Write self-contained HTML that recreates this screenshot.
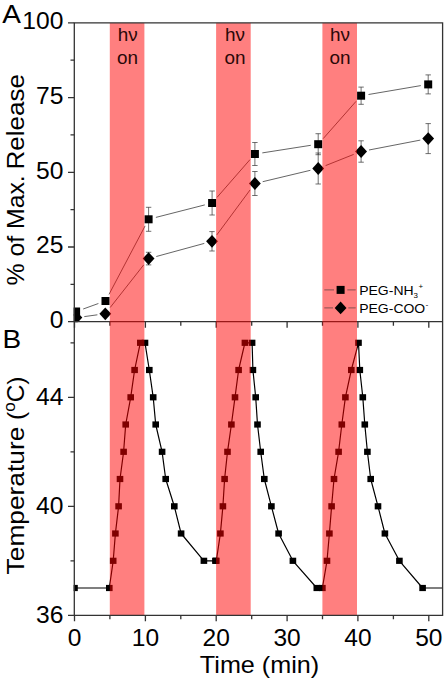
<!DOCTYPE html>
<html><head><meta charset="utf-8"><title>Release and temperature vs time</title>
<style>html,body{margin:0;padding:0;background:#fff}svg{display:block}text{font-family:"Liberation Sans", Arial, sans-serif}</style>
</head><body>
<svg width="448" height="683" viewBox="0 0 448 683">
<rect width="448" height="683" fill="#fff"/>
<clipPath id="clipA"><rect x="73.65" y="22.90" width="369.60" height="299.45"/></clipPath>
<g id="panelA" clip-path="url(#clipA)">
<path d="M83.2 309.0L98.4 303.5M109.0 294.4L145.1 225.9M155.9 217.4L204.8 204.9M217.0 197.4L250.0 159.6M262.3 152.9L310.8 145.3M323.2 138.6L356.1 101.3M368.5 94.5L420.8 85.6" stroke="#222" stroke-width="0.7" fill="none"/>
<path d="M84.3 316.6L97.4 314.8M110.2 307.5L143.7 264.9M156.3 256.5L204.3 243.4M216.8 234.9L250.1 189.9M262.7 181.7L310.4 170.3M325.6 165.6L353.7 154.4M369.0 150.0L420.3 140.1" stroke="#222" stroke-width="0.7" fill="none"/>
<path d="M148.6 207.3V231.3M145.9 207.3h5.4M145.9 231.3h5.4M212.1 191.0V215.0M209.4 191.0h5.4M209.4 215.0h5.4M254.9 142.5V165.5M252.2 142.5h5.4M252.2 165.5h5.4M318.2 133.7V154.7M315.5 133.7h5.4M315.5 154.7h5.4M361.1 87.1V104.3M358.4 87.1h5.4M358.4 104.3h5.4M428.2 74.9V93.9M425.5 74.9h5.4M425.5 93.9h5.4M148.6 252.3V264.9M145.9 252.3h5.4M145.9 264.9h5.4M212.0 231.6V251.0M209.3 231.6h5.4M209.3 251.0h5.4M254.9 171.5V195.5M252.2 171.5h5.4M252.2 195.5h5.4M318.2 153.0V184.0M315.5 153.0h5.4M315.5 184.0h5.4M361.1 140.8V162.2M358.4 140.8h5.4M358.4 162.2h5.4M428.2 123.6V153.6M425.5 123.6h5.4M425.5 153.6h5.4" stroke="#333" stroke-width="0.7" fill="none"/>
<rect x="72.1" y="307.5" width="8" height="8" fill="#000"/>
<rect x="101.5" y="297.0" width="8" height="8" fill="#000"/>
<rect x="144.6" y="215.3" width="8" height="8" fill="#000"/>
<rect x="208.1" y="199.0" width="8" height="8" fill="#000"/>
<rect x="250.9" y="150.0" width="8" height="8" fill="#000"/>
<rect x="314.2" y="140.2" width="8" height="8" fill="#000"/>
<rect x="357.1" y="91.7" width="8" height="8" fill="#000"/>
<rect x="424.2" y="80.4" width="8" height="8" fill="#000"/>
<path d="M76.4 311.2l5.9 6.4l-5.9 6.4l-5.9 -6.4z" fill="#000"/>
<path d="M105.3 307.4l5.9 6.4l-5.9 6.4l-5.9 -6.4z" fill="#000"/>
<path d="M148.6 252.2l5.9 6.4l-5.9 6.4l-5.9 -6.4z" fill="#000"/>
<path d="M212.0 234.9l5.9 6.4l-5.9 6.4l-5.9 -6.4z" fill="#000"/>
<path d="M254.9 177.1l5.9 6.4l-5.9 6.4l-5.9 -6.4z" fill="#000"/>
<path d="M318.2 162.1l5.9 6.4l-5.9 6.4l-5.9 -6.4z" fill="#000"/>
<path d="M361.1 145.1l5.9 6.4l-5.9 6.4l-5.9 -6.4z" fill="#000"/>
<path d="M428.2 132.2l5.9 6.4l-5.9 6.4l-5.9 -6.4z" fill="#000"/>
</g>
<clipPath id="clipB"><rect x="73.65" y="321.70" width="369.60" height="294.25"/></clipPath>
<g id="panelB" clip-path="url(#clipB)">
<polyline points="74.5,588.0 109.3,588.0 113.2,560.8 115.4,533.5 118.6,506.3 120.0,479.0 123.6,451.8 125.7,424.5 130.7,397.3 134.6,370.0 140.3,342.8 145.0,342.8 149.3,370.0 153.2,397.3 155.7,424.5 162.1,451.8 165.7,479.0 174.3,506.3 181.1,533.5 203.9,560.8 215.4,560.8 216.3,560.8 220.4,533.5 222.9,506.3 224.6,479.0 227.5,451.8 231.4,424.5 235.0,397.3 238.6,370.0 244.9,342.8 252.1,342.8 252.9,370.0 255.7,397.3 257.5,424.5 260.7,451.8 264.3,479.0 271.4,506.3 278.6,533.5 292.9,560.8 316.8,588.0 322.4,588.0 327.0,560.8 329.4,533.5 331.6,506.3 334.0,479.0 338.6,451.8 341.8,424.5 345.4,397.3 351.3,370.0 358.5,342.8 359.8,370.0 362.8,397.3 364.8,424.5 367.4,451.8 370.7,479.0 378.0,506.3 384.9,533.5 399.4,560.8 422.6,588.0 442.6,588.0" fill="none" stroke="#000" stroke-width="1.2" stroke-linejoin="round"/>
<rect x="71.2" y="584.9" width="6.6" height="6.2" fill="#000"/>
<rect x="106.0" y="584.9" width="6.6" height="6.2" fill="#000"/>
<rect x="109.9" y="557.7" width="6.6" height="6.2" fill="#000"/>
<rect x="112.1" y="530.4" width="6.6" height="6.2" fill="#000"/>
<rect x="115.3" y="503.2" width="6.6" height="6.2" fill="#000"/>
<rect x="116.7" y="475.9" width="6.6" height="6.2" fill="#000"/>
<rect x="120.3" y="448.7" width="6.6" height="6.2" fill="#000"/>
<rect x="122.4" y="421.4" width="6.6" height="6.2" fill="#000"/>
<rect x="127.4" y="394.2" width="6.6" height="6.2" fill="#000"/>
<rect x="131.3" y="366.9" width="6.6" height="6.2" fill="#000"/>
<rect x="137.0" y="339.7" width="6.6" height="6.2" fill="#000"/>
<rect x="141.7" y="339.7" width="6.6" height="6.2" fill="#000"/>
<rect x="146.0" y="366.9" width="6.6" height="6.2" fill="#000"/>
<rect x="149.9" y="394.2" width="6.6" height="6.2" fill="#000"/>
<rect x="152.4" y="421.4" width="6.6" height="6.2" fill="#000"/>
<rect x="158.8" y="448.7" width="6.6" height="6.2" fill="#000"/>
<rect x="162.4" y="475.9" width="6.6" height="6.2" fill="#000"/>
<rect x="171.0" y="503.2" width="6.6" height="6.2" fill="#000"/>
<rect x="177.8" y="530.4" width="6.6" height="6.2" fill="#000"/>
<rect x="200.6" y="557.7" width="6.6" height="6.2" fill="#000"/>
<rect x="212.1" y="557.7" width="6.6" height="6.2" fill="#000"/>
<rect x="213.0" y="557.7" width="6.6" height="6.2" fill="#000"/>
<rect x="217.1" y="530.4" width="6.6" height="6.2" fill="#000"/>
<rect x="219.6" y="503.2" width="6.6" height="6.2" fill="#000"/>
<rect x="221.3" y="475.9" width="6.6" height="6.2" fill="#000"/>
<rect x="224.2" y="448.7" width="6.6" height="6.2" fill="#000"/>
<rect x="228.1" y="421.4" width="6.6" height="6.2" fill="#000"/>
<rect x="231.7" y="394.2" width="6.6" height="6.2" fill="#000"/>
<rect x="235.3" y="366.9" width="6.6" height="6.2" fill="#000"/>
<rect x="241.6" y="339.7" width="6.6" height="6.2" fill="#000"/>
<rect x="248.8" y="339.7" width="6.6" height="6.2" fill="#000"/>
<rect x="249.6" y="366.9" width="6.6" height="6.2" fill="#000"/>
<rect x="252.4" y="394.2" width="6.6" height="6.2" fill="#000"/>
<rect x="254.2" y="421.4" width="6.6" height="6.2" fill="#000"/>
<rect x="257.4" y="448.7" width="6.6" height="6.2" fill="#000"/>
<rect x="261.0" y="475.9" width="6.6" height="6.2" fill="#000"/>
<rect x="268.1" y="503.2" width="6.6" height="6.2" fill="#000"/>
<rect x="275.3" y="530.4" width="6.6" height="6.2" fill="#000"/>
<rect x="289.6" y="557.7" width="6.6" height="6.2" fill="#000"/>
<rect x="313.5" y="584.9" width="6.6" height="6.2" fill="#000"/>
<rect x="319.1" y="584.9" width="6.6" height="6.2" fill="#000"/>
<rect x="323.7" y="557.7" width="6.6" height="6.2" fill="#000"/>
<rect x="326.1" y="530.4" width="6.6" height="6.2" fill="#000"/>
<rect x="328.3" y="503.2" width="6.6" height="6.2" fill="#000"/>
<rect x="330.7" y="475.9" width="6.6" height="6.2" fill="#000"/>
<rect x="335.3" y="448.7" width="6.6" height="6.2" fill="#000"/>
<rect x="338.5" y="421.4" width="6.6" height="6.2" fill="#000"/>
<rect x="342.1" y="394.2" width="6.6" height="6.2" fill="#000"/>
<rect x="348.0" y="366.9" width="6.6" height="6.2" fill="#000"/>
<rect x="355.2" y="339.7" width="6.6" height="6.2" fill="#000"/>
<rect x="356.5" y="366.9" width="6.6" height="6.2" fill="#000"/>
<rect x="359.5" y="394.2" width="6.6" height="6.2" fill="#000"/>
<rect x="361.5" y="421.4" width="6.6" height="6.2" fill="#000"/>
<rect x="364.1" y="448.7" width="6.6" height="6.2" fill="#000"/>
<rect x="367.4" y="475.9" width="6.6" height="6.2" fill="#000"/>
<rect x="374.7" y="503.2" width="6.6" height="6.2" fill="#000"/>
<rect x="381.6" y="530.4" width="6.6" height="6.2" fill="#000"/>
<rect x="396.1" y="557.7" width="6.6" height="6.2" fill="#000"/>
<rect x="419.3" y="584.9" width="6.6" height="6.2" fill="#000"/>
</g>
<g id="mid-axis" stroke="#333" stroke-width="1.3" fill="none">
<path d="M74.3 321.7H442.6M74.5 321.7v6.0M109.9 321.7v4.0M145.4 321.7v6.0M180.8 321.7v4.0M216.2 321.7v6.0M251.7 321.7v4.0M287.1 321.7v6.0M322.5 321.7v4.0M357.9 321.7v6.0M393.4 321.7v4.0M428.8 321.7v6.0"/>
</g>
<g id="bands" fill="#ff0000" fill-opacity="0.5">
<rect x="109.8" y="22.9" width="34.6" height="592.4"/>
<rect x="216.1" y="22.9" width="34.6" height="592.4"/>
<rect x="322.4" y="22.9" width="34.6" height="592.4"/>
</g>
<g id="legend">
<path d="M324.3 289.9H334M347.3 289.9H355.7M324.3 307.9H333M348.3 307.9H355.7" stroke="#333" stroke-width="0.6"/>
<rect x="336.6" y="285.9" width="8" height="8" fill="#000"/>
<path d="M340.6 301.5l5.9 6.4l-5.9 6.4l-5.9 -6.4z" fill="#000"/>
</g>
<g id="axes" stroke="#333" stroke-width="1.3" fill="none">
<path d="M74.3 22.9H442.6V615.3H74.3Z"/>
<path d="M68.0 321.7h6.3M70.5 284.3h3.8M68.0 247.0h6.3M70.5 209.6h3.8M68.0 172.3h6.3M70.5 134.9h3.8M68.0 97.6h6.3M70.5 60.2h3.8M68.0 22.9h6.3M68.0 615.3h6.3M70.5 560.8h3.8M68.0 506.3h6.3M70.5 451.8h3.8M68.0 397.3h6.3M70.5 342.8h3.8M74.5 615.3v6.0M109.9 615.3v4.0M145.4 615.3v6.0M180.8 615.3v4.0M216.2 615.3v6.0M251.7 615.3v4.0M287.1 615.3v6.0M322.5 615.3v4.0M357.9 615.3v6.0M393.4 615.3v4.0M428.8 615.3v6.0"/>
</g>
<g id="labels">
<text transform="translate(2.2 23) scale(1.12 1)" font-size="25">A</text>
<text transform="translate(2.6 347.5) scale(1.12 1)" font-size="25">B</text>
<text transform="translate(63.5 29.3) scale(1.045 1)" font-size="23.6" text-anchor="end">100</text>
<text transform="translate(63.5 103.8) scale(1.045 1)" font-size="23.6" text-anchor="end">75</text>
<text transform="translate(63.5 178.6) scale(1.045 1)" font-size="23.6" text-anchor="end">50</text>
<text transform="translate(63.5 253.3) scale(1.045 1)" font-size="23.6" text-anchor="end">25</text>
<text transform="translate(63.5 328.1) scale(1.045 1)" font-size="23.6" text-anchor="end">0</text>
<text transform="translate(63.5 622.8) scale(1.045 1)" font-size="23.6" text-anchor="end">36</text>
<text transform="translate(63.5 513.8) scale(1.045 1)" font-size="23.6" text-anchor="end">40</text>
<text transform="translate(63.5 404.8) scale(1.045 1)" font-size="23.6" text-anchor="end">44</text>
<text transform="translate(74.5 646.0) scale(1.04 1)" font-size="23.6" text-anchor="middle">0</text>
<text transform="translate(145.4 646.0) scale(1.04 1)" font-size="23.6" text-anchor="middle">10</text>
<text transform="translate(216.2 646.0) scale(1.04 1)" font-size="23.6" text-anchor="middle">20</text>
<text transform="translate(287.1 646.0) scale(1.04 1)" font-size="23.6" text-anchor="middle">30</text>
<text transform="translate(357.9 646.0) scale(1.04 1)" font-size="23.6" text-anchor="middle">40</text>
<text transform="translate(428.8 646.0) scale(1.04 1)" font-size="23.6" text-anchor="middle">50</text>
<text transform="translate(259.5 672.8) scale(1.028 1)" font-size="24.5" text-anchor="middle">Time (min)</text>
<text transform="translate(24.3 285.5) rotate(-90) scale(1.013 1)" font-size="24.5">% of Max.</text>
<text transform="translate(24.3 169.6) rotate(-90) scale(1.064 1)" font-size="24.5">Release</text>
<text transform="translate(24.3 574.4) rotate(-90) scale(1.075 1)" font-size="24.5">Temperature</text>
<text transform="translate(24.3 420.0) rotate(-90)" font-size="24.5">(<tspan font-size="17" dy="-9.5">o</tspan><tspan dy="9.5">C)</tspan></text>
<text transform="translate(127.6 40.8) scale(1.08 1)" font-size="17.5" text-anchor="middle" fill="#2a0808">hν</text>
<text transform="translate(127.6 63.5) scale(1.08 1)" font-size="17.5" text-anchor="middle" fill="#2a0808">on</text>
<text transform="translate(234.9 40.8) scale(1.08 1)" font-size="17.5" text-anchor="middle" fill="#2a0808">hν</text>
<text transform="translate(234.9 63.5) scale(1.08 1)" font-size="17.5" text-anchor="middle" fill="#2a0808">on</text>
<text transform="translate(339.9 40.8) scale(1.08 1)" font-size="17.5" text-anchor="middle" fill="#2a0808">hν</text>
<text transform="translate(339.9 63.5) scale(1.08 1)" font-size="17.5" text-anchor="middle" fill="#2a0808">on</text>
<text transform="translate(359.2 295) scale(1.06 1)" font-size="13.2">PEG-NH<tspan font-size="7.5" dy="3.2">3</tspan><tspan font-size="7.5" dy="-9" dx="0.5">+</tspan></text>
<text transform="translate(359.2 312.7) scale(1.06 1)" font-size="13.2">PEG-COO<tspan font-size="8" dy="-5.5" dx="0.3">-</tspan></text>
</g>
</svg>
</body></html>
